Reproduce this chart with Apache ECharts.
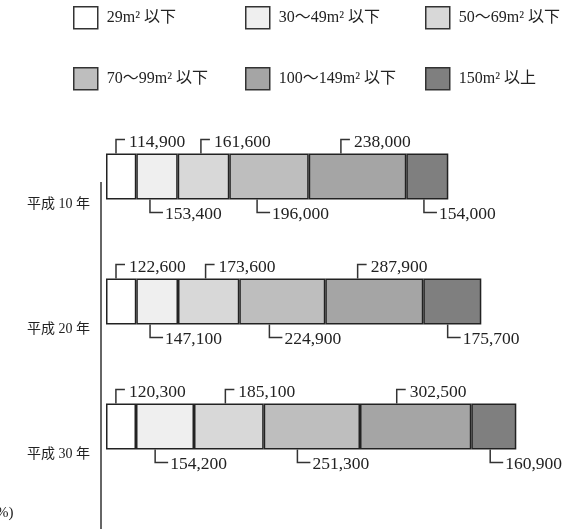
<!DOCTYPE html>
<html>
<head>
<meta charset="utf-8">
<script src="https://cdn.jsdelivr.net/npm/echarts@6/dist/echarts.min.js"></script>
<style>
html,body{margin:0;padding:0;background:#fff;}
#c{width:578px;height:529px;}
</style>
</head>
<body>
<div id="c"></div>
<script>
// ---- data ----
const years = ['平成 10 年', '平成 20 年', '平成 30 年'];
const sizeClasses = ['29m² 以下', '30〜49m² 以下', '50〜69m² 以下', '70〜99m² 以下', '100〜149m² 以下', '150m² 以上'];
// segment lengths as drawn
const bars10 = [30.3, 41.4, 51.6, 79.4, 97.6, 42.0];
const bars20 = [30.3, 41.7, 61.3, 86.0, 98.0, 58.0];
const bars30 = [30.0, 58.0, 69.7, 96.3, 111.3, 45.0];
// printed values
const labels10 = [114900, 153400, 161600, 196000, 238000, 154000];
const labels20 = [122600, 147100, 173600, 224900, 287900, 175700];
const labels30 = [120300, 154200, 185100, 251300, 302500, 160900];

// ---- styles / layout ----
const colors = ['#ffffff', '#efefef', '#d8d8d8', '#bebebe', '#a5a5a5', '#7f7f7f'];
const leaderFrac = [0.33, 0.33, 0.45, 0.35, 0.33, 0.42];
const legendPos = [[73, 6], [245, 6], [425, 6], [73, 67], [245, 67], [425, 67]];
const serif = '"Liberation Serif", "Noto Sans CJK JP", serif';
const BAR_H = 46, HALF = 23;

const barsByYear = [bars10, bars20, bars30];
const labelsByYear = [labels10, labels20, labels30];

const barSeries = sizeClasses.map((name, j) => ({
  name: name,
  type: 'bar',
  stack: 'total',
  barWidth: BAR_H,
  itemStyle: { color: colors[j], borderColor: '#222', borderWidth: 1.5 },
  emphasis: { disabled: true },
  data: barsByYear.map(arr => arr[j])
}));

const leaderData = [];
barsByYear.forEach((arr, i) => {
  let acc = 0;
  arr.forEach((v, j) => {
    leaderData.push([i, acc, acc + v, labelsByYear[i][j], j]);
    acc += v;
  });
});

const leaderSeries = {
  type: 'custom',
  z: 10,
  silent: true,
  data: leaderData,
  encode: { x: [1, 2], y: 0 },
  renderItem: function (params, api) {
    const cat = api.value(0), s = api.value(1), e = api.value(2), lab = api.value(3), seg = api.value(4);
    const p0 = api.coord([s, cat]);
    const p1 = api.coord([e, cat]);
    const lx = p0[0] + (p1[0] - p0[0]) * leaderFrac[seg];
    const text = Number(lab).toLocaleString('en-US');
    let pts, tx, ty;
    if (seg % 2 === 0) {
      const top = p0[1] - HALF;
      pts = [[lx, top], [lx, top - 14], [lx + 9, top - 14]];
      tx = lx + 13; ty = top - 11;
    } else {
      const bot = p0[1] + HALF;
      pts = [[lx, bot], [lx, bot + 13], [lx + 13, bot + 13]];
      tx = lx + 15; ty = bot + 15;
    }
    return {
      type: 'group',
      children: [
        { type: 'polyline', shape: { points: pts }, style: { stroke: '#333', lineWidth: 1.5, fill: null } },
        { type: 'text', x: tx, y: ty, style: { text: text, fill: '#222', font: '17.5px ' + serif, align: 'left', verticalAlign: 'middle' } }
      ]
    };
  }
};

const legends = sizeClasses.map((name, j) => ({
  data: [name],
  left: legendPos[j][0],
  top: legendPos[j][1],
  padding: 0,
  itemWidth: 24,
  itemHeight: 22,
  selectedMode: false,
  icon: 'rect',
  itemStyle: { color: colors[j], borderColor: '#333', borderWidth: 1.5 },
  textStyle: { fontFamily: serif, fontSize: 16, color: '#222', padding: [0, 0, 0, 4] }
}));

const chart = echarts.init(document.getElementById('c'), null, { renderer: 'canvas' });
chart.setOption({
  animation: false,
  backgroundColor: '#fff',
  legend: legends,
  grid: { left: 106, top: 114, width: 470, height: 375, containLabel: false },
  xAxis: { type: 'value', min: 0, max: 470, show: false },
  yAxis: {
    type: 'category',
    inverse: true,
    data: years,
    axisLine: { show: false },
    axisTick: { show: false },
    axisLabel: {
      margin: 16,
      color: '#222',
      fontFamily: serif,
      fontSize: 14,
      lineHeight: 28,
      verticalAlign: 'middle',
      formatter: function (v) { return '\n\n' + v; }
    }
  },
  graphic: [
    { type: 'line', shape: { x1: 101, y1: 182, x2: 101, y2: 529 }, style: { stroke: '#333', lineWidth: 1.5 } },
    { type: 'text', x: -9, y: 513, style: { text: '(%)', fill: '#222', font: '15px ' + serif, verticalAlign: 'middle' } }
  ],
  series: barSeries.concat([leaderSeries])
});
</script>
</body>
</html>
